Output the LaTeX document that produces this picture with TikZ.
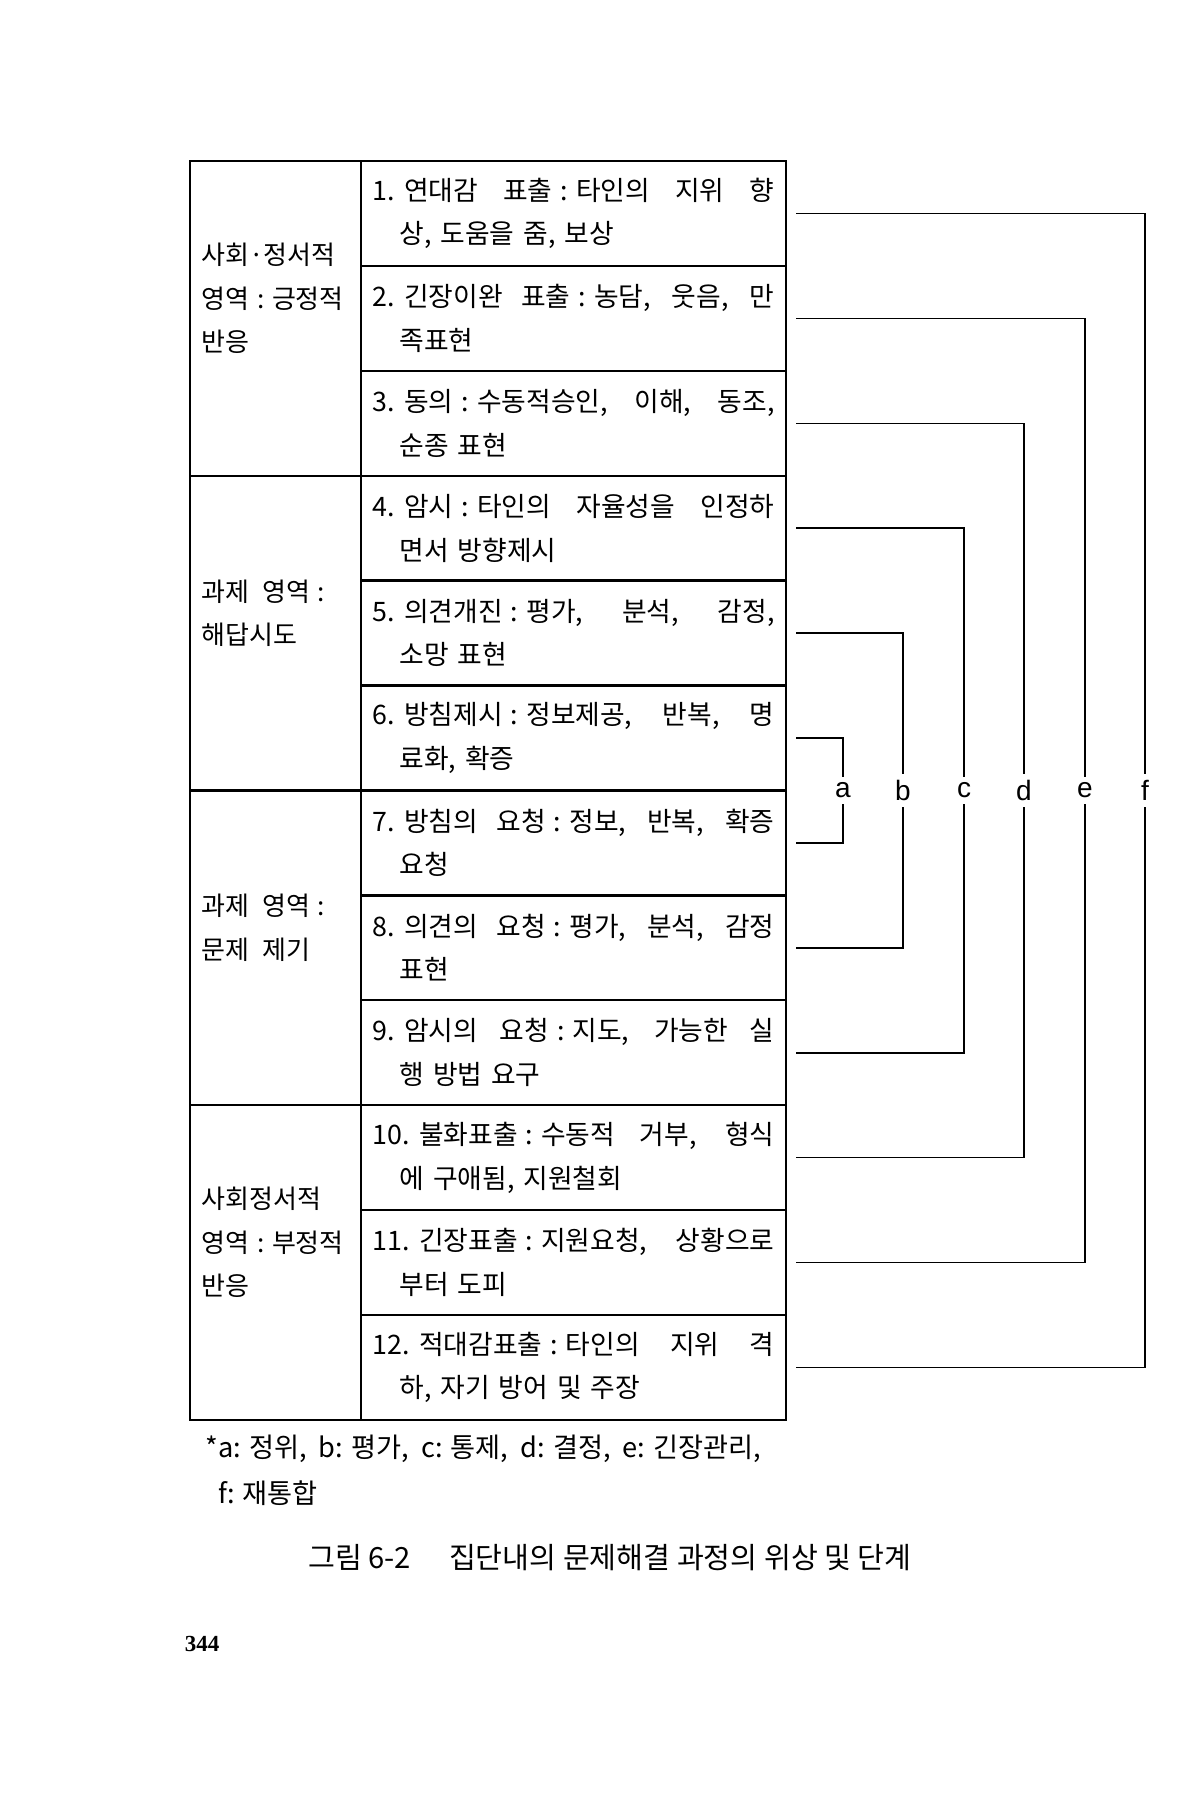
\documentclass[tikz,border=0pt]{standalone}
\usepackage{fontspec}
\newfontfamily\krfont{Noto Sans CJK KR}
\newfontfamily\tagfont{Liberation Sans}
\newfontfamily\pagefont{Liberation Serif}
\usetikzlibrary{positioning}

\newlength{\rowtw}
\setlength{\rowtw}{201pt}
\newcommand{\cln}{\hspace{0.3em}:\hspace{0.3em}}
\newcommand{\rowtext}[3]{\makebox[\rowtw][s]{\spaceskip=0.3em plus 1fil #1\hspace{0.35em}#2}\\\hspace*{13.5pt}#3}

\begin{document}
\begin{tikzpicture}[
        x=0.5pt, y=-0.5pt,
        font=\krfont\fontsize{13.4}{21.8}\selectfont,
        rowbox/.style = {rectangle, draw, line width=1.2pt, outer sep=0pt, minimum width=212.5pt, minimum height=52.45pt, text width=201pt, inner xsep=5.75pt, inner ysep=0pt, align=left},
        groupbox/.style = {rectangle, draw, line width=1.2pt, outer sep=0pt, minimum width=85.5pt, minimum height=157.35pt},
        grouptext/.style = {anchor=west, align=left, inner sep=0pt, font=\krfont\fontsize{13}{21.8}\selectfont},
        bracket/.style = {draw, line width=0.8pt},
        tag/.style = {fill=white, inner xsep=1pt, inner ysep=3pt, font=\tagfont\fontsize{14}{14}\selectfont},
        note/.style = {anchor=west, inner sep=0pt, font=\krfont\fontsize{13.6}{13.6}\selectfont},
        caption/.style = {inner sep=0pt, font=\krfont\fontsize{14.6}{14.6}\selectfont},
        pagenum/.style = {inner sep=0pt, font=\pagefont\bfseries\fontsize{11.5}{11.5}\selectfont}
    ]
    \useasboundingbox (0,0) rectangle (1200,1800);

    % Rows
    \node [rowbox] (r1) at (573.5,213.5) {\rowtext{1.}{연대감 표출\cln{}타인의 지위 향}{상, 도움을 줌, 보상}};
    \node [rowbox, below=0pt of r1] (r2) {\rowtext{2.}{긴장이완 표출\cln{}농담, 웃음, 만}{족표현}};
    \node [rowbox, below=0pt of r2] (r3) {\rowtext{3.}{동의\cln{}수동적승인, 이해, 동조,}{순종 표현}};
    \node [rowbox, below=0pt of r3] (r4) {\rowtext{4.}{암시\cln{}타인의 자율성을 인정하}{면서 방향제시}};
    \node [rowbox, below=0pt of r4] (r5) {\rowtext{5.}{의견개진\cln{}평가, 분석, 감정,}{소망 표현}};
    \node [rowbox, below=0pt of r5] (r6) {\rowtext{6.}{방침제시\cln{}정보제공, 반복, 명}{료화, 확증}};
    \node [rowbox, below=0pt of r6] (r7) {\rowtext{7.}{방침의 요청\cln{}정보, 반복, 확증}{요청}};
    \node [rowbox, below=0pt of r7] (r8) {\rowtext{8.}{의견의 요청\cln{}평가, 분석, 감정}{표현}};
    \node [rowbox, below=0pt of r8] (r9) {\rowtext{9.}{암시의 요청\cln{}지도, 가능한 실}{행 방법 요구}};
    \node [rowbox, below=0pt of r9] (r10) {\rowtext{10.}{불화표출\cln{}수동적 거부, 형식}{에 구애됨, 지원철회}};
    \node [rowbox, below=0pt of r10] (r11) {\rowtext{11.}{긴장표출\cln{}지원요청, 상황으로}{부터 도피}};
    \node [rowbox, below=0pt of r11] (r12) {\rowtext{12.}{적대감표출\cln{}타인의 지위 격}{하, 자기 방어 및 주장}};

    % Groups
    \node [groupbox, left=0pt of r2] (g1) {};
    \node [groupbox, left=0pt of r5] (g2) {};
    \node [groupbox, left=0pt of r8] (g3) {};
    \node [groupbox, left=0pt of r11] (g4) {};
    \node [grouptext] (g1t) at ([xshift=5.5pt, yshift=10pt]g1.west) {사회·정서적\\영역\cln{}긍정적\\반응};
    \node [grouptext] (g2t) at ([xshift=5.5pt, yshift=10pt]g2.west) {과제\hspace{0.5em}영역\cln\\해답시도};
    \node [grouptext] (g3t) at ([xshift=5.5pt, yshift=10pt]g3.west) {과제\hspace{0.5em}영역\cln\\문제\hspace{0.5em}제기};
    \node [grouptext] (g4t) at ([xshift=5.5pt, yshift=10pt]g4.west) {사회정서적\\영역\cln{}부정적\\반응};

    % Bracket columns
    \coordinate (ca) at (843,0);
    \coordinate (cb) at (903,0);
    \coordinate (cc) at (964,0);
    \coordinate (cd) at (1024,0);
    \coordinate (ce) at (1085,0);
    \coordinate (cf) at (1145,0);

    % Brackets
    \path [bracket] ([xshift=5pt]r6.east) -| node[pos=0.75, tag] {a} (ca |- r7.east) -- ([xshift=5pt]r7.east);
    \path [bracket] ([xshift=5pt]r5.east) -| node[pos=0.75, tag] {b} (cb |- r8.east) -- ([xshift=5pt]r8.east);
    \path [bracket] ([xshift=5pt]r4.east) -| node[pos=0.75, tag] {c} (cc |- r9.east) -- ([xshift=5pt]r9.east);
    \path [bracket] ([xshift=5pt]r3.east) -| node[pos=0.75, tag] {d} (cd |- r10.east) -- ([xshift=5pt]r10.east);
    \path [bracket] ([xshift=5pt]r2.east) -| node[pos=0.75, tag] {e} (ce |- r11.east) -- ([xshift=5pt]r11.east);
    \path [bracket] ([xshift=5pt]r1.east) -| node[pos=0.75, tag] {f} (cf |- r12.east) -- ([xshift=5pt]r12.east);

    % Notes
    \node [note] (fn1) at (205,1449) {*a: 정위,\ \ b: 평가,\ \ c: 통제,\ \ d: 결정,\ \ e: 긴장관리,};
    \node [note] (fn2) at (218,1493) {f: 재통합};
    \node [caption] (cap) at (610,1558) {그림 6-2\hspace{1.3em}집단내의 문제해결 과정의 위상 및 단계};
    \node [pagenum] (pg) at (202,1644) {344};

\end{tikzpicture}
\end{document}
